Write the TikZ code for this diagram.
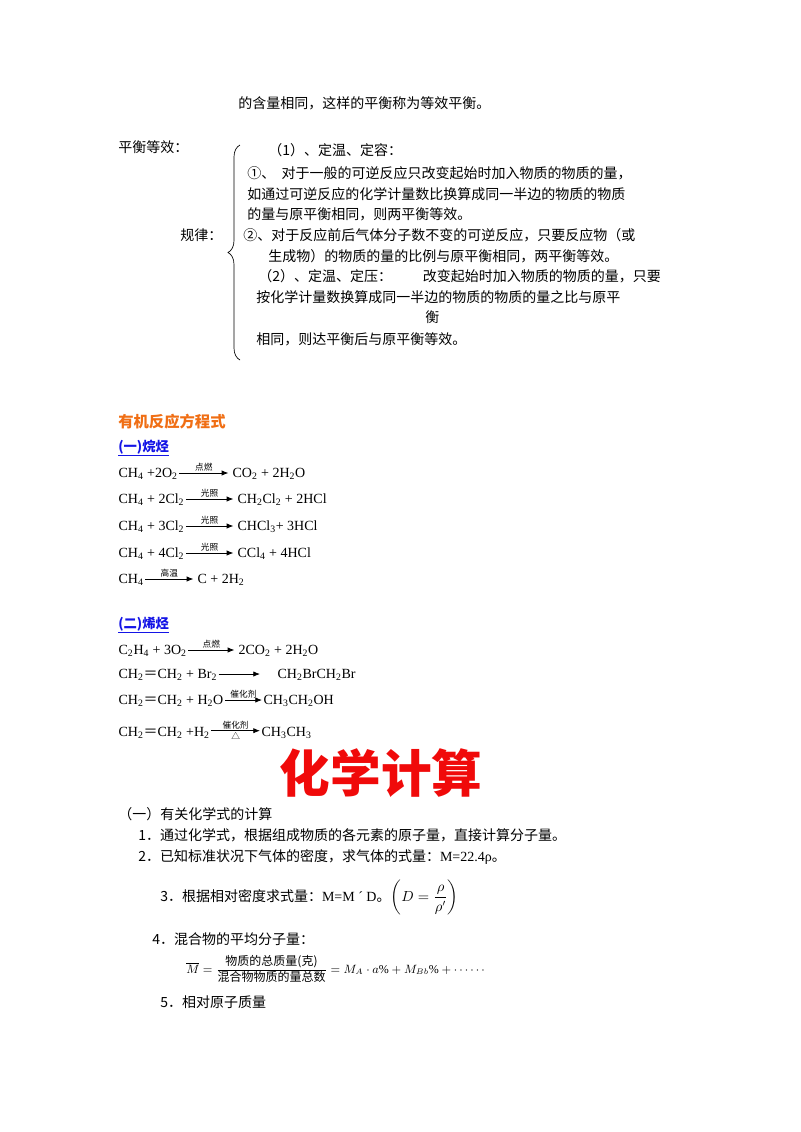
\documentclass[tikz,border=0pt]{standalone}
\usepackage{amsmath}
\usepackage{fontspec}
\setmainfont{Liberation Serif}
\newfontfamily\cjk{Noto Sans CJK SC}
\usetikzlibrary{arrows.meta,decorations.pathreplacing}
\begin{document}
\begin{tikzpicture}[x=0.75pt,y=-0.75pt,
  txt/.style={anchor=base west,inner sep=0pt,font=\cjk\fontsize{10.5}{12}\selectfont},
  chem/.style={anchor=base west,inner xsep=1pt,inner ysep=0pt,font=\fontsize{10.5}{12}\selectfont},
  rarr/.style={-{Latex[length=5pt,width=4pt]},line width=0.6pt},
  albl/.style={font=\cjk\fontsize{6.5}{7}\selectfont,inner sep=1pt}]
\useasboundingbox[fill=white] (0,0) rectangle (800,1132);
\node[txt] (t0) at (238,108) {的含量相同，这样的平衡称为等效平衡。};
\node[txt] (t1) at (118,152) {平衡等效：};
\draw[decorate,decoration={brace,amplitude=9pt},line width=0.5pt] (240,360) coordinate (b2) -- (240,145) coordinate (b1);
\node[txt] (t2) at (180,240) {规律：};
\node[txt] (t3) at (268,155) {（1）、定温、定容：};
\node[txt] (t4) at (247,178) {①、\ \ 对于一般的可逆反应只改变起始时加入物质的物质的量，};
\node[txt] (t5) at (247,199) {如通过可逆反应的化学计量数比换算成同一半边的物质的物质};
\node[txt] (t6) at (247,219) {的量与原平衡相同，则两平衡等效。};
\node[txt] (t7) at (243,240) {②、对于反应前后气体分子数不变的可逆反应，只要反应物（或};
\node[txt] (t8) at (268,261) {生成物）的物质的量的比例与原平衡相同，两平衡等效。};
\node[txt] (t9) at (258,281) {（2）、定温、定压：\hspace{2.2em}改变起始时加入物质的物质的量，只要};
\node[txt] (t10) at (256,302) {按化学计量数换算成同一半边的物质的物质的量之比与原平};
\node[txt] (t11) at (425,322) {衡};
\node[txt] (t12) at (256,344) {相同，则达平衡后与原平衡等效。};
\node[txt,font=\cjk\bfseries\fontsize{11.5}{13}\selectfont,text={rgb,255:red,240;green,110;blue,20}] (h1) at (118,427) {有机反应方程式};
\node[txt,font=\cjk\bfseries\fontsize{10}{12}\selectfont,text={rgb,255:red,20;green,20;blue,230}] (h2) at (118,451) {\underline{(一)烷烃}};
% alkanes
\node[chem] (l1) at (117,477) {CH\textsubscript{4} +2O\textsubscript{2}};
\node[chem] (r1) at (231,477) {CO\textsubscript{2} + 2H\textsubscript{2}O};
\node[chem] (l2) at (117,503) {CH\textsubscript{4} + 2Cl\textsubscript{2}};
\node[chem] (r2) at (236,503) {CH\textsubscript{2}Cl\textsubscript{2} + 2HCl};
\node[chem] (l3) at (117,530) {CH\textsubscript{4} + 3Cl\textsubscript{2}};
\node[chem] (r3) at (236,530) {CHCl\textsubscript{3}+ 3HCl};
\node[chem] (l4) at (117,557) {CH\textsubscript{4} + 4Cl\textsubscript{2}};
\node[chem] (r4) at (236,557) {CCl\textsubscript{4} + 4HCl};
\node[chem] (l5) at (117,583) {CH\textsubscript{4}};
\node[chem] (r5) at (196,583) {C + 2H\textsubscript{2}};
\foreach \i/\lab in {1/点燃,2/光照,3/光照,4/光照,5/高温}{
  \draw[rarr] ([yshift=3pt]l\i.base east) -- node[albl,above]{\lab} ([yshift=3pt,xshift=-2pt]r\i.base west);
}
\node[txt,font=\cjk\bfseries\fontsize{10}{12}\selectfont,text={rgb,255:red,20;green,20;blue,230}] (h3) at (118,628) {\underline{(二)烯烃}};
\node[chem] (l6) at (117,654) {C\textsubscript{2}H\textsubscript{4} + 3O\textsubscript{2}};
\node[chem] (r6) at (237,654) {2CO\textsubscript{2} + 2H\textsubscript{2}O};
\node[chem] (l7) at (117,678) {CH\textsubscript{2}{\cjk ＝}CH\textsubscript{2} + Br\textsubscript{2}};
\node[chem] (r7) at (276,678) {CH\textsubscript{2}BrCH\textsubscript{2}Br};
\node[chem] (l8) at (117,704) {CH\textsubscript{2}{\cjk ＝}CH\textsubscript{2} + H\textsubscript{2}O};
\node[chem] (r8) at (262,704) {CH\textsubscript{3}CH\textsubscript{2}OH};
\node[chem] (l9) at (117,736) {CH\textsubscript{2}{\cjk ＝}CH\textsubscript{2} +H\textsubscript{2}};
\node[chem] (r9) at (260,736) {CH\textsubscript{3}CH\textsubscript{3}};
\draw[rarr] ([yshift=3pt]l6.base east) -- node[albl,above]{点燃} ([yshift=3pt,xshift=-2pt]r6.base west);
\draw[rarr] ([yshift=3pt]l7.base east) -- ([yshift=3pt,xshift=-12pt]r7.base west);
\draw[rarr] ([yshift=3pt]l8.base east) -- node[albl,above]{催化剂} ([yshift=3pt]r8.base west);
\draw[rarr] ([yshift=4pt]l9.base east) -- node[albl,above]{催化剂} node[albl,below]{△} ([yshift=4pt]r9.base west);
\node[font=\cjk\bfseries\fontsize{38}{40}\selectfont,text={rgb,255:red,240;green,10;blue,10},inner sep=0pt] (title) at (381,773) {化学计算};
\node[txt] (c0) at (118,819) {（一）有关化学式的计算};
\node[txt] (c1) at (138,840) {1．通过化学式，根据组成物质的各元素的原子量，直接计算分子量。};
\node[txt] (c2) at (138,861) {2．已知标准状况下气体的密度，求气体的式量：{\rmfamily M=22.4ρ}。};
\node[txt] (c3) at (160,901) {3．根据相对密度求式量：{\rmfamily M=M ´ D}。$\left(D=\dfrac{\rho}{\rho'}\right)$};
\node[txt] (c4) at (152,944) {4．混合物的平均分子量：};
\node[anchor=west,inner sep=0pt,font=\fontsize{9}{10}\selectfont] (c5) at (186,969) {$\overline{M}=\dfrac{\mbox{\cjk 物质的总质量(克)}}{\mbox{\cjk 混合物物质的量总数}}=M_A\cdot a\%+M_{Bb}\%+\cdots\cdots$};
\node[txt] (c6) at (160,1007) {5．相对原子质量};
\end{tikzpicture}
\end{document}
